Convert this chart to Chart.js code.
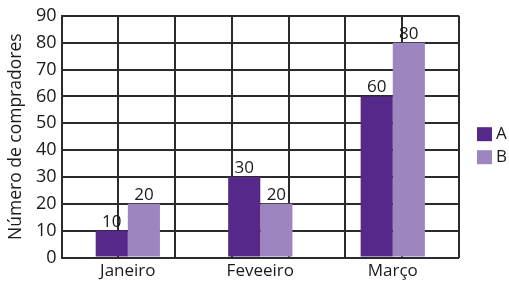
<!DOCTYPE html>
<html>
<head>
<meta charset="utf-8">
<script src="https://cdn.jsdelivr.net/npm/chart.js@4/dist/chart.umd.min.js"></script>
<style>
  html, body { margin: 0; padding: 0; background: #fff; }
  #wrap { width: 509px; height: 284px; }
</style>
</head>
<body>
<div id="wrap"><canvas id="chart" width="509" height="284"></canvas></div>
<script>
// data
const months = ['Janeiro', 'Feveeiro', 'Março'];
const seriesA = [10, 30, 60];
const seriesB = [20, 20, 80];
const yTicks = [0, 10, 20, 30, 40, 50, 60, 70, 80, 90];

const gridColor = '#2b2b2b';
const font = { family: 'Open Sans', size: 17 };

// number above each bar
const barLabels = {
  id: 'barLabels',
  afterDatasetsDraw(chart) {
    const ctx = chart.ctx;
    ctx.save();
    ctx.font = '17px "Open Sans"';
    ctx.fillStyle = '#1a1a1a';
    ctx.textAlign = 'center';
    ctx.textBaseline = 'alphabetic';
    chart.data.datasets.forEach((ds, i) => {
      chart.getDatasetMeta(i).data.forEach((bar, j) => {
        ctx.fillText(ds.data[j], bar.x, bar.y - 4);
      });
    });
    ctx.restore();
  }
};

// legend to the right of the plot
const sideLegend = {
  id: 'sideLegend',
  afterDraw(chart) {
    const ctx = chart.ctx;
    const area = chart.chartArea;
    const x = area.right + 18;
    const mid = (area.top + area.bottom) / 2 + 9;
    ctx.save();
    ctx.font = '17px "Open Sans"';
    ctx.textBaseline = 'middle';
    chart.data.datasets.forEach((ds, i) => {
      const y = mid + (i - 0.5) * 23;
      ctx.fillStyle = ds.backgroundColor;
      ctx.fillRect(x, y - 7, 15, 14);
      ctx.fillStyle = '#1a1a1a';
      ctx.fillText(ds.label, x + 19, y);
    });
    ctx.restore();
  }
};

new Chart(document.getElementById('chart'), {
  type: 'bar',
  data: {
    labels: months,
    datasets: [
      { label: 'A', data: seriesA, backgroundColor: '#55288a' },
      { label: 'B', data: seriesB, backgroundColor: '#9d86bf' }
    ]
  },
  options: {
    responsive: false,
    animation: false,
    layout: { padding: { top: 6, right: 50, left: 6, bottom: 0 } },
    datasets: { bar: { categoryPercentage: 0.485, barPercentage: 1 } },
    plugins: {
      tooltip: { enabled: false },
      legend: { display: false }
    },
    scales: {
      x: {
        grid: { display: false, drawTicks: false },
        border: { display: false },
        ticks: { font: font, color: '#1a1a1a', padding: 3 }
      },
      x2: {
        type: 'linear', position: 'bottom', min: 0, max: 6, z: 1,
        grid: { color: gridColor, lineWidth: 2, drawTicks: false },
        border: { display: false },
        ticks: { display: false, stepSize: 1 }
      },
      y: {
        min: 0, max: 90,
        afterBuildTicks: s => { s.ticks = yTicks.map(v => ({ value: v })); },
        grid: { color: gridColor, lineWidth: 2, drawTicks: false },
        border: { color: gridColor, width: 2 },
        ticks: { font: { family: 'Open Sans', size: 18 }, color: '#1a1a1a', padding: 5 },
        title: { display: true, text: 'Número de compradores', font: { family: 'Open Sans', size: 17.5 }, color: '#1a1a1a', padding: { top: 0, bottom: 4 } }
      }
    }
  },
  plugins: [barLabels, sideLegend]
});
</script>
</body>
</html>
